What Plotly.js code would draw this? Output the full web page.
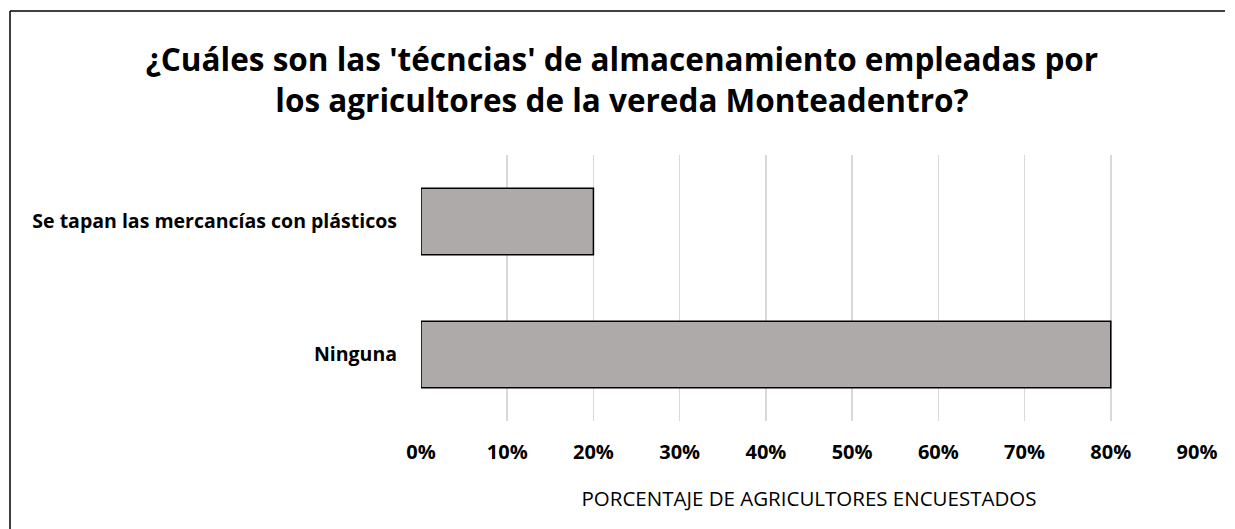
<!DOCTYPE html>
<html>
<head>
<meta charset="utf-8">
<script src="https://cdn.plot.ly/plotly-3.0.1.min.js"></script>
<style>html,body{margin:0;padding:0;background:#fff;overflow:hidden;}#chart{width:1235px;height:529px;}</style>
</head>
<body>
<div id="chart"></div>
<script>
const categories = ["Se tapan las mercancías con plásticos", "Ninguna"];
const values = [0.20, 0.80];
const tickVals = [0, 0.1, 0.2, 0.3, 0.4, 0.5, 0.6, 0.7, 0.8, 0.9];
const tickText = ["0%", "10%", "20%", "30%", "40%", "50%", "60%", "70%", "80%", "90%"];
const titleText = "¿Cuáles son las 'técncias' de almacenamiento empleadas por<br>los agricultores de la vereda Monteadentro?";
const xTitle = "PORCENTAJE DE AGRICULTORES ENCUESTADOS";

const FONT = "'Open Sans', sans-serif";

const trace = {
  type: "bar",
  orientation: "h",
  y: categories,
  x: values,
  marker: {color: "#AEAAAA", line: {color: "#000000", width: 1.5}},
  hoverinfo: "none"
};

const px = v => (v - 421) / 776;
const py = v => (421 - v) / 266;

const layout = {
  width: 1235, height: 529,
  margin: {l: 421, r: 38, t: 155, b: 108, pad: 0},
  paper_bgcolor: "#ffffff", plot_bgcolor: "#ffffff",
  showlegend: false,
  bargap: 0.5,
  title: {
    text: titleText,
    font: {family: FONT, size: 31.5, color: "#000000", weight: "bold"},
    xref: "container", x: 0.5036, xanchor: "center",
    yref: "container", y: 1 - 71/529, yanchor: "top"
  },
  xaxis: {
    range: [0, 0.9],
    tickvals: tickVals, ticktext: tickText,
    showgrid: true, gridcolor: "#D9D9D9", gridwidth: 1.5,
    zeroline: false, showline: false,
    ticks: "", ticklabelstandoff: 17,
    tickfont: {family: FONT, size: 20, color: "#000000", weight: "bold"},
    title: {text: xTitle, font: {family: FONT, size: 20.5, color: "#000000"}, standoff: 27},
    fixedrange: true
  },
  yaxis: {
    type: "category",
    categoryorder: "array", categoryarray: categories.slice().reverse(),
    range: [-0.5, 1.5],
    showgrid: false, zeroline: false, showline: false,
    ticks: "", ticklabelstandoff: 23,
    tickfont: {family: FONT, size: 19.5, color: "#000000", weight: "bold"},
    fixedrange: true
  },
  shapes: [
    {type: "line", xref: "paper", yref: "paper", x0: px(10), x1: px(10), y0: py(529), y1: py(11),
     line: {color: "#000000", width: 1.5}, layer: "below"},
    {type: "line", xref: "paper", yref: "paper", x0: px(10), x1: px(1225), y0: py(11), y1: py(11),
     line: {color: "#000000", width: 1.5}, layer: "below"}
  ]
};

Plotly.newPlot("chart", [trace], layout, {displayModeBar: false, staticPlot: true});
</script>
</body>
</html>
